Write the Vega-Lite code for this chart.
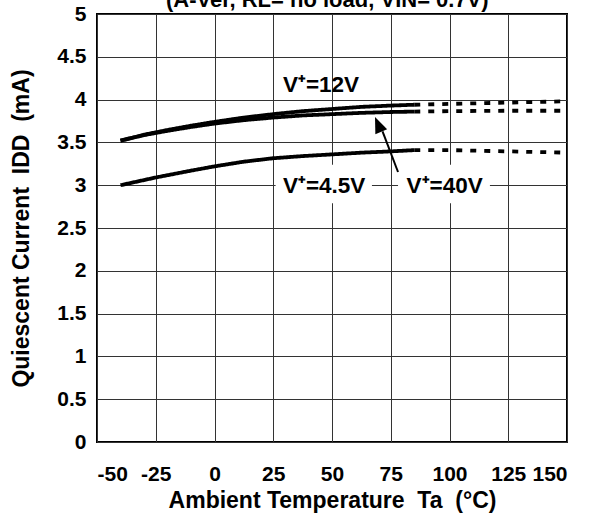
{
  "$schema": "https://vega.github.io/schema/vega-lite/v6.json",
  "width": 470,
  "height": 428,
  "autosize": {"type": "none"},
  "padding": {"left": 97, "top": 14, "right": 23, "bottom": 78},
  "background": "white",
  "config": {
    "font": "Liberation Sans",
    "view": {"stroke": "black", "strokeWidth": 2},
    "axis": {
      "labelFont": "Liberation Sans",
      "labelFontWeight": "bold",
      "labelFontSize": 21,
      "labelColor": "black",
      "titleFont": "Liberation Sans",
      "titleFontWeight": "bold",
      "titleFontSize": 23,
      "titleColor": "black",
      "grid": true,
      "gridColor": "#333333",
      "gridWidth": 1,
      "gridOpacity": 1,
      "tickSize": 0,
      "domain": false,
      "labelExpr": "'' + datum.value"
    }
  },
  "datasets": {
    "curves": [
      {"T": -40, "I": 3.52, "series": "12V", "part": "solid"},
      {"T": -30, "I": 3.59, "series": "12V", "part": "solid"},
      {"T": -20, "I": 3.645, "series": "12V", "part": "solid"},
      {"T": -10, "I": 3.695, "series": "12V", "part": "solid"},
      {"T": 0, "I": 3.74, "series": "12V", "part": "solid"},
      {"T": 12.5, "I": 3.79, "series": "12V", "part": "solid"},
      {"T": 25, "I": 3.83, "series": "12V", "part": "solid"},
      {"T": 37.5, "I": 3.865, "series": "12V", "part": "solid"},
      {"T": 50, "I": 3.89, "series": "12V", "part": "solid"},
      {"T": 62.5, "I": 3.915, "series": "12V", "part": "solid"},
      {"T": 75, "I": 3.93, "series": "12V", "part": "solid"},
      {"T": 85, "I": 3.94, "series": "12V", "part": "solid"},
      {"T": 85, "I": 3.94, "series": "12V", "part": "dotted"},
      {"T": 100, "I": 3.95, "series": "12V", "part": "dotted"},
      {"T": 125, "I": 3.965, "series": "12V", "part": "dotted"},
      {"T": 150, "I": 3.98, "series": "12V", "part": "dotted"},
      {"T": -40, "I": 3.52, "series": "40V", "part": "solid"},
      {"T": -30, "I": 3.585, "series": "40V", "part": "solid"},
      {"T": -20, "I": 3.635, "series": "40V", "part": "solid"},
      {"T": -10, "I": 3.68, "series": "40V", "part": "solid"},
      {"T": 0, "I": 3.72, "series": "40V", "part": "solid"},
      {"T": 12.5, "I": 3.76, "series": "40V", "part": "solid"},
      {"T": 25, "I": 3.79, "series": "40V", "part": "solid"},
      {"T": 37.5, "I": 3.815, "series": "40V", "part": "solid"},
      {"T": 50, "I": 3.83, "series": "40V", "part": "solid"},
      {"T": 62.5, "I": 3.845, "series": "40V", "part": "solid"},
      {"T": 75, "I": 3.855, "series": "40V", "part": "solid"},
      {"T": 85, "I": 3.86, "series": "40V", "part": "solid"},
      {"T": 85, "I": 3.86, "series": "40V", "part": "dotted"},
      {"T": 100, "I": 3.865, "series": "40V", "part": "dotted"},
      {"T": 125, "I": 3.87, "series": "40V", "part": "dotted"},
      {"T": 150, "I": 3.87, "series": "40V", "part": "dotted"},
      {"T": -40, "I": 3.0, "series": "4.5V", "part": "solid"},
      {"T": -25, "I": 3.09, "series": "4.5V", "part": "solid"},
      {"T": -10, "I": 3.17, "series": "4.5V", "part": "solid"},
      {"T": 0, "I": 3.22, "series": "4.5V", "part": "solid"},
      {"T": 12.5, "I": 3.275, "series": "4.5V", "part": "solid"},
      {"T": 25, "I": 3.315, "series": "4.5V", "part": "solid"},
      {"T": 37.5, "I": 3.34, "series": "4.5V", "part": "solid"},
      {"T": 50, "I": 3.36, "series": "4.5V", "part": "solid"},
      {"T": 62.5, "I": 3.38, "series": "4.5V", "part": "solid"},
      {"T": 75, "I": 3.395, "series": "4.5V", "part": "solid"},
      {"T": 85, "I": 3.41, "series": "4.5V", "part": "solid"},
      {"T": 85, "I": 3.41, "series": "4.5V", "part": "dotted"},
      {"T": 100, "I": 3.41, "series": "4.5V", "part": "dotted"},
      {"T": 125, "I": 3.395, "series": "4.5V", "part": "dotted"},
      {"T": 150, "I": 3.38, "series": "4.5V", "part": "dotted"}
    ],
    "labels": [
      {"T": 29.1, "I": 4.09, "text": "V⁺=12V"},
      {"T": 29.1, "I": 2.91, "text": "V⁺=4.5V"},
      {"T": 81.7, "I": 2.91, "text": "V⁺=40V"}
    ],
    "boxes": [
      {"T1": 26, "T2": 67, "I1": 2.79, "I2": 3.24},
      {"T1": 78.1, "T2": 117.2, "I1": 2.79, "I2": 3.24}
    ],
    "arrow": [
      {"T1": 78.1, "I1": 3.154, "T2": 71.5, "I2": 3.63}
    ],
    "tip": [
      {"T": 68.3, "I": 3.797}
    ],
    "heading": [
      {"T": 48, "I": 5.076, "text": "(A-Ver, RL= no load, VIN= 0.7V)"}
    ]
  },
  "layer": [
    {
      "data": {"name": "boxes"},
      "mark": {"type": "rect", "fill": "white", "stroke": null},
      "encoding": {
        "x": {"field": "T1", "type": "quantitative", "scale": {"domain": [-50, 150], "nice": false, "zero": false},
          "axis": {"values": [-50, -25, 0, 25, 50, 75, 100, 125, 150], "labelPadding": 21, "title": "Ambient Temperature\u00a0\u00a0Ta\u00a0\u00a0(°C)", "titlePadding": 5}},
        "x2": {"field": "T2"},
        "y": {"field": "I1", "type": "quantitative", "scale": {"domain": [0, 5], "nice": false},
          "axis": {"values": [0, 0.5, 1, 1.5, 2, 2.5, 3, 3.5, 4, 4.5, 5], "labelPadding": 11, "title": "Quiescent Current\u00a0\u00a0IDD\u00a0\u00a0(mA)", "titlePadding": 23}},
        "y2": {"field": "I2"}
      }
    },
    {
      "data": {"name": "curves"},
      "mark": {"type": "line", "color": "black", "strokeWidth": 3.8, "strokeCap": "butt"},
      "encoding": {
        "x": {"field": "T", "type": "quantitative"},
        "y": {"field": "I", "type": "quantitative"},
        "detail": {"field": "series"},
        "strokeDash": {"field": "part", "type": "nominal", "scale": {"domain": ["solid", "dotted"], "range": [[1, 0], [6, 8]]}, "legend": null}
      }
    },
    {
      "data": {"name": "labels"},
      "mark": {"type": "text", "align": "left", "baseline": "alphabetic", "fontSize": 22.5, "fontWeight": "bold", "color": "black"},
      "encoding": {
        "x": {"field": "T", "type": "quantitative"},
        "y": {"field": "I", "type": "quantitative"},
        "text": {"field": "text"}
      }
    },
    {
      "data": {"name": "arrow"},
      "mark": {"type": "rule", "color": "black", "strokeWidth": 2},
      "encoding": {
        "x": {"field": "T1", "type": "quantitative"},
        "y": {"field": "I1", "type": "quantitative"},
        "x2": {"field": "T2"},
        "y2": {"field": "I2"}
      }
    },
    {
      "data": {"name": "tip"},
      "mark": {"type": "point", "shape": "M0,0 L-0.4,1 L0.4,1 Z", "filled": true, "color": "black", "opacity": 1, "size": 1024, "angle": 337},
      "encoding": {
        "x": {"field": "T", "type": "quantitative"},
        "y": {"field": "I", "type": "quantitative"}
      }
    },
    {
      "data": {"name": "heading"},
      "mark": {"type": "text", "align": "center", "baseline": "alphabetic", "fontSize": 22, "fontWeight": "bold", "color": "black", "clip": false},
      "encoding": {
        "x": {"field": "T", "type": "quantitative"},
        "y": {"field": "I", "type": "quantitative"},
        "text": {"field": "text"}
      }
    }
  ]
}
